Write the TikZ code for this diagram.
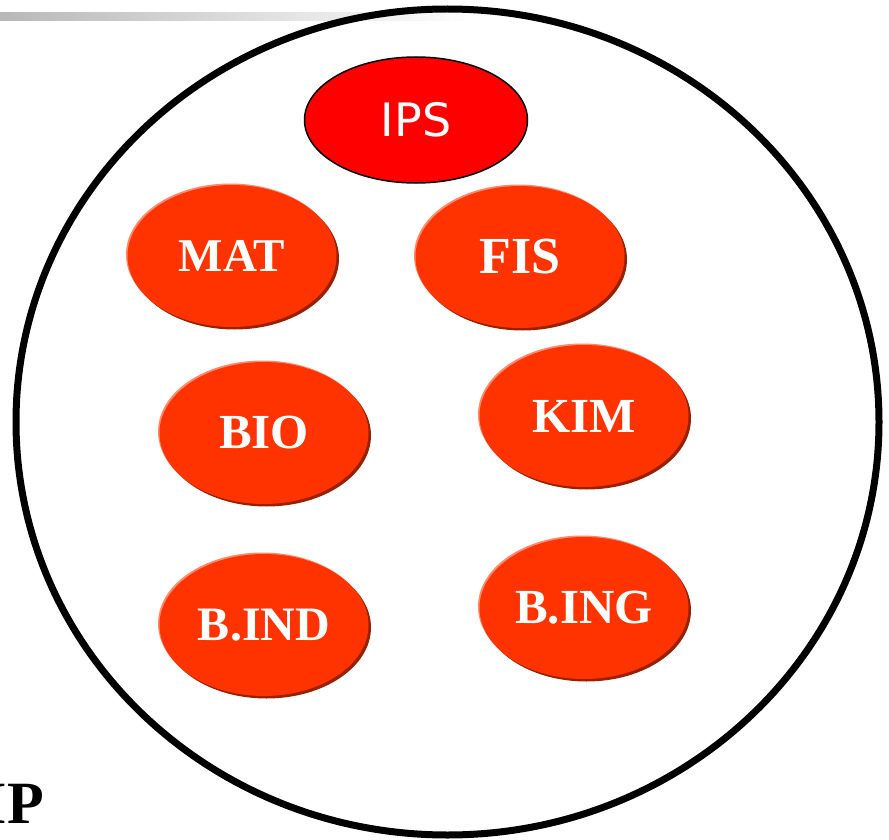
\documentclass[tikz,border=0pt]{standalone}
\usepackage{fontspec}
\setmainfont{Liberation Serif}
\newfontfamily\ipsfont{DejaVu Sans}
\usetikzlibrary{shapes.geometric,shadows}
\definecolor{subj}{HTML}{FF3300}
\definecolor{subjdark}{HTML}{9A2000}
\definecolor{subjlight}{HTML}{FF8A70}
\definecolor{bargray}{HTML}{B8B8B8}
\begin{document}
\begin{tikzpicture}[x=1pt,y=-1pt,
  subject/.style={ellipse, fill=subj, text=white, inner sep=0pt,
    minimum width=209pt, minimum height=142pt,
    font=\bfseries\fontsize{49}{49}\selectfont,
    general shadow={shadow xshift=2.5pt, shadow yshift=-2.5pt, fill=subjdark},
    general shadow={shadow xshift=-1.5pt, shadow yshift=1.5pt, fill=subjlight}},
  topic/.style={ellipse, fill=red, draw=black, line width=1.5pt, text=white,
    inner sep=0pt, minimum width=223pt, minimum height=126pt,
    font=\ipsfont\fontsize{46}{46}\selectfont},
  ringstyle/.style={ellipse, draw=black, line width=7pt, inner sep=0pt,
    minimum width=863pt, minimum height=826pt}]
\useasboundingbox (0,0) rectangle (889,840);
\shade[left color=bargray, right color=white] (0,13) rectangle (473,21);
\node[ringstyle] (ring) at (447.5,422) {};
\node[topic] (ips) at (416,120) {IPS};
\node[subject, font=\bfseries\fontsize{47}{47}\selectfont] (mat) at (232,256) {MAT};
\node[subject, font=\bfseries\fontsize{52}{52}\selectfont] (fis) at (520,257) {FIS};
\node[subject] (bio) at (264,433) {BIO};
\node[subject] (kim) at (584,416) {KIM};
\node[subject, font=\bfseries\fontsize{48}{48}\selectfont] (bind) at (264,625) {B.IND};
\node[subject] (bing) at (584,608) {B.ING};
\node[anchor=base east, inner sep=0pt, font=\bfseries\fontsize{60}{60}\selectfont] (ip) at (44,823) {IP};
\end{tikzpicture}
\end{document}
